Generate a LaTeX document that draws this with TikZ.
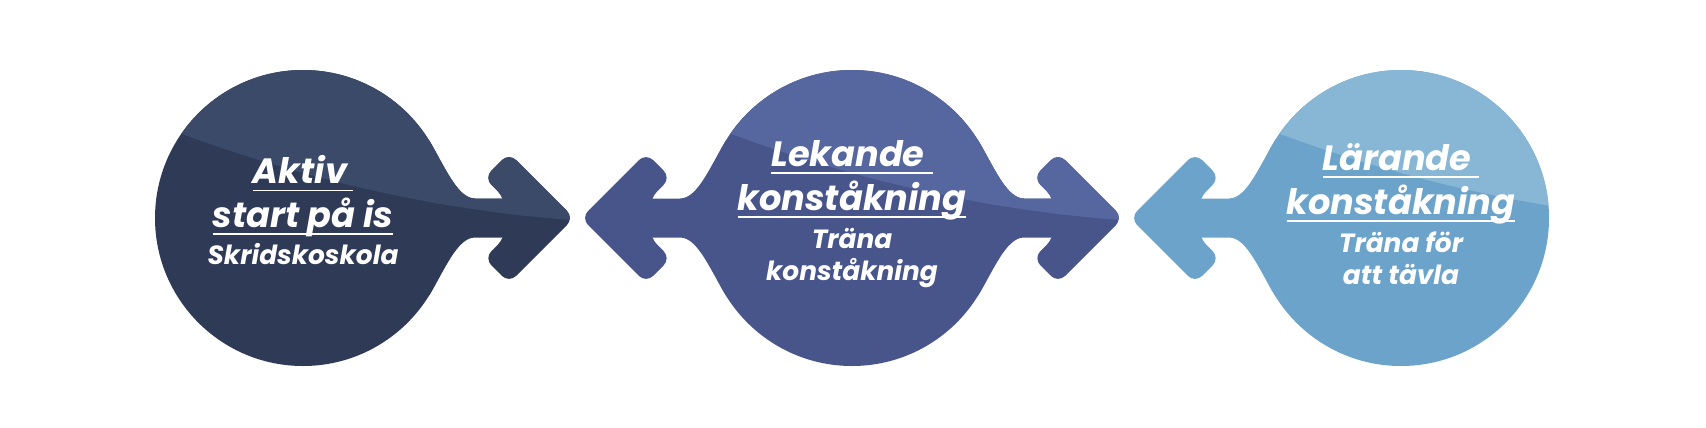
\documentclass[tikz,border=0pt]{standalone}
\usepackage{fontspec}
\setmainfont{Poppins}
\definecolor{iceone}{HTML}{3B4A69}
\definecolor{iceonedark}{HTML}{2F3B56}
\definecolor{icetwo}{HTML}{56669E}
\definecolor{icetwodark}{HTML}{48558A}
\definecolor{icethree}{HTML}{88B6D5}
\definecolor{icethreedark}{HTML}{6CA3CA}

\newsavebox{\ulbox}
\newcommand{\lineunder}[1]{\sbox{\ulbox}{#1}\rlap{\rule[-4.5pt]{\wd\ulbox}{1.1pt}}\usebox{\ulbox}}
\newcommand{\headsize}{\fontsize{20}{25}\selectfont}
\newcommand{\subsize}{\fontsize{15}{17}\selectfont}

% outlines, in a frame centred on each circle
\newcommand{\bubbleshape}{(0,0) circle (148)}
\newcommand{\armshape}{(125.5,78.4) .. controls (141.4,52.9) and (154,19.5) .. (172,19.5) -- (216,19.5) -- (216,-19.5) -- (172,-19.5) .. controls (154,-19.5) and (141.4,-52.9) .. (125.5,-78.4) -- cycle}
\newcommand{\tipshape}{[rounded corners=0.2cm] (202,0) -- (202,19.5) -- (181.25,40.25) -- (206,65) -- (271,0) -- (206,-65) -- (181.25,-40.25) -- (202,-19.5) -- cycle}
\newcommand{\upperpart}{(-130,87.4) .. controls (6.7,36.1) and (143.3,6.1) .. (280,-2.8) -- (280,170) -- (-130,170) -- cycle}
\newcommand{\rightpieces}[1]{\fill[#1] \armshape; \fill[#1] \tipshape;}
\newcommand{\leftpieces}[1]{\begin{scope}[xscale=-1]\rightpieces{#1}\end{scope}}

\tikzset{
  bubbletext/.style={align=center, text=white, font=\bfseries\itshape\headsize, inner sep=0pt}
}

\begin{document}
\begin{tikzpicture}[x=0.02cm, y=0.02cm]
    \fill[white] (0,-209) rectangle (1706,218);
    \useasboundingbox (0,-209) rectangle (1706,218);

    % Aktiv start
    \begin{scope}[shift={(303,0)}]
        \fill[iceonedark] \bubbleshape;
        \rightpieces{iceonedark}
        \begin{scope}
            \clip \upperpart;
            \fill[iceone] \bubbleshape;
            \rightpieces{iceone}
        \end{scope}
    \end{scope}
    \node[bubbletext] (aktiv) at (303,8)
        {\lineunder{Aktiv\,}\\\lineunder{start på is}\\[-4pt]\subsize Skridskoskola};

    % Lekande
    \begin{scope}[shift={(852,0)}]
        \fill[icetwodark] \bubbleshape;
        \leftpieces{icetwodark}
        \rightpieces{icetwodark}
        \begin{scope}
            \clip \upperpart;
            \fill[icetwo] \bubbleshape;
            \rightpieces{icetwo}
        \end{scope}
    \end{scope}
    \node[bubbletext] (lekande) at (852,4)
        {\lineunder{Lekande }\\\lineunder{konståkning}\\[-3pt]\subsize Träna\\[-7pt]\subsize konståkning};

    % Lärande
    \begin{scope}[shift={(1401,0)}]
        \fill[icethreedark] \bubbleshape;
        \leftpieces{icethreedark}
        \begin{scope}
            \clip \upperpart;
            \fill[icethree] \bubbleshape;
        \end{scope}
    \end{scope}
    \node[bubbletext] (larande) at (1401,4)
        {\lineunder{Lärande }\\\lineunder{konståkning}\\[-3pt]\subsize Träna för\\[-7pt]\subsize att tävla};
\end{tikzpicture}
\end{document}
